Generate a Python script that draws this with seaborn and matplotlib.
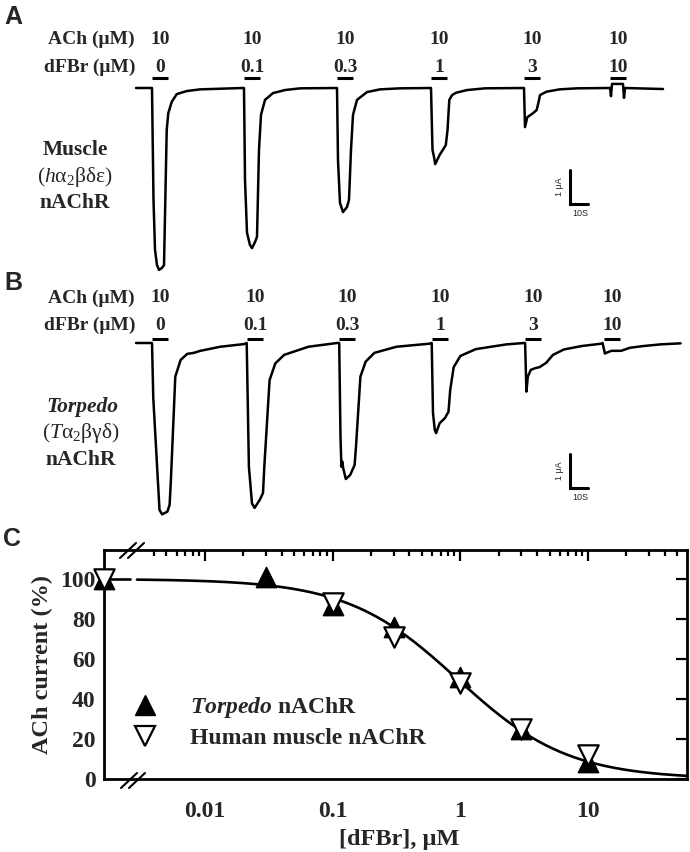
import numpy as np
import pandas as pd
import matplotlib
matplotlib.use("Agg")
import matplotlib.pyplot as plt
import seaborn as sns
from matplotlib.lines import Line2D
from matplotlib.font_manager import FontProperties

# ---------------------------------------------------------------- data
ACH_UM = ["10", "10", "10", "10", "10", "10"]
DFBR_UM = ["0", "0.1", "0.3", "1", "3", "10"]

# Panel A: human muscle nAChR current trace (time in s, current in uA)
MUSCLE_T = [0, 8.89, 9.72, 10.56, 11.67, 12.78, 14.44, 15.56, 17.06, 17.94, 19.83, 22.61, 28.17, 35.56, 59.44,
            60.0, 60.56, 61.67, 63.33, 64.44, 66.11, 67.22, 68.33, 69.44, 71.67, 76.11, 82.78, 91.11, 111.67,
            112.22, 113.33, 115.0, 117.22, 118.33, 119.44, 120.56, 122.78, 128.33, 135.56, 146.67, 163.89,
            164.72, 165.56, 166.22, 168.67, 172.11, 173.06, 174.06, 175.56, 177.78, 183.89, 193.89, 215.56,
            216.11, 217.39, 220.56, 222.56, 223.5, 224.44, 227.94, 235.28, 245.0, 263.33,
            263.89, 264.44, 270.56, 271.11, 271.67, 292.78]
MUSCLE_I = [0, 0, -3.29, -4.76, -5.21, -5.35, -5.29, -5.21, -1.24, -0.74, -0.41, -0.18, -0.09, -0.04, 0,
            0, -2.71, -4.26, -4.62, -4.71, -4.53, -4.38, -1.82, -0.79, -0.35, -0.15, -0.06, -0.01, 0,
            -2.12, -3.38, -3.65, -3.50, -3.29, -1.82, -0.79, -0.35, -0.12, -0.04, -0.01, 0,
            -1.82, -2.03, -2.24, -1.97, -1.68, -1.24, -0.35, -0.21, -0.14, -0.06, -0.01, 0,
            -1.15, -0.86, -0.74, -0.65, -0.45, -0.21, -0.11, -0.04, -0.01, 0,
            -0.24, 0.12, 0.12, -0.29, 0, -0.03]

# Panel B: Torpedo nAChR current trace
TORPEDO_T = [0, 8.89, 9.61, 13.06, 14.5, 17.44, 18.67, 19.39, 21.83, 24.78, 28.44, 32.11, 35.78, 46.83, 60.28,
             61.5, 62.72, 64.44, 65.89, 68.89, 70.56, 71.28, 74.22, 77.39, 82.28, 95.78, 111.67,
             112.89, 113.61, 114.11, 114.61, 115.11, 116.56, 119.0, 121.44, 122.22, 124.67, 127.56, 132.44, 144.72, 163.06,
             164.28, 165.0, 166.0, 166.72, 168.67, 171.61, 173.61, 174.56, 176.5, 180.22, 188.78, 205.89, 215.67,
             216.17, 216.89, 217.67, 219.33, 221.78, 224.22, 227.94, 231.61, 237.72, 247.5, 258.5,
             259.22, 260.5, 261.67, 264.17, 269.5, 274.44, 281.78, 291.56, 302.56]
TORPEDO_I = [0, 0, -1.63, -4.91, -5.04, -4.96, -4.76, -4.03, -0.99, -0.50, -0.32, -0.29, -0.23, -0.11, -0.03,
             0, -3.64, -4.72, -4.85, -4.60, -4.41, -3.64, -1.09, -0.60, -0.35, -0.11, 0,
             0, -2.76, -3.64, -3.49, -3.68, -4.00, -3.88, -3.59, -3.05, -0.99, -0.55, -0.29, -0.11, -0.02,
             0, -2.06, -2.56, -2.65, -2.36, -2.21, -2.02, -1.38, -0.71, -0.38, -0.18, -0.04, 0,
             0, -1.43, -0.99, -0.79, -0.74, -0.71, -0.58, -0.35, -0.19, -0.09, -0.02,
             0, -0.31, -0.28, -0.23, -0.23, -0.14, -0.09, -0.04, -0.01]

# drug application onsets (s) and duration (s)
MUSCLE_APPLY_T = [8.9, 60.0, 111.7, 163.9, 215.6, 263.3]
TORPEDO_APPLY_T = [8.9, 61.7, 112.8, 164.4, 216.1, 260.0]
APPLY_DUR_S = 9.0
SCALE_UA = 1.0
SCALE_S = 10.0

# Panel C: inhibition of ACh current
CONTROL_PCT = 100
TORPEDO_CONC = [0.03, 0.1, 0.3, 1, 3, 10]
TORPEDO_PCT = [101, 87, 76, 51, 25, 8.5]
HUMAN_CONC = [0.1, 0.3, 1, 3, 10]
HUMAN_PCT = [88, 71, 48, 25, 12]
IC50_UM = 0.95
HILL_N = 1.0
X_TICKS = [0.01, 0.1, 1, 10]
X_TICK_LABELS = ["0.01", "0.1", "1", "10"]
Y_TICKS = [0, 20, 40, 60, 80, 100]

# ---------------------------------------------------------------- style
sns.set_theme(style="white")
plt.rcParams["font.family"] = ["Liberation Serif", "DejaVu Serif"]
plt.rcParams["mathtext.fontset"] = "custom"
plt.rcParams["mathtext.rm"] = "Liberation Serif"
plt.rcParams["mathtext.it"] = "Liberation Serif:italic"
plt.rcParams["mathtext.bf"] = "Liberation Serif:bold"
try:
    plt.rcParams["mathtext.bfit"] = "Liberation Serif:italic:bold"
    TORP_LEG = r"$\mathbfit{Torpedo}$ nAChR"
except KeyError:
    TORP_LEG = r"$\mathit{Torpedo}$ nAChR"

W, H = 690, 852
fig = plt.figure(figsize=(W / 100, H / 100), dpi=100)


def px_box(x0, y0, x1, y1):
    return [x0 / W, 1 - y1 / H, (x1 - x0) / W, (y1 - y0) / H]


def fx(x):
    return x / W


def fy(y):
    return 1 - y / H


# trace geometry
T_PX0, PX_PER_S, PX_PER_UA = 136, 1.8, 34.0


def t_of(px):
    return (px - T_PX0) / PX_PER_S


def trace_panel(t, i, onsets, base_px, top_px, bot_px, ach_y, dfbr_y, bar_y, scale_top_px):
    ax = fig.add_axes(px_box(120, top_px, 690, bot_px))
    ax.set_xlim(t_of(120), t_of(690))
    ax.set_ylim((base_px - bot_px) / PX_PER_UA, (base_px - top_px) / PX_PER_UA)
    ax.axis("off")
    yv = lambda py: (base_px - py) / PX_PER_UA
    sns.lineplot(x=t, y=i, ax=ax, sort=False, estimator=None, color="black", lw=1.8)
    # application bars and labels
    for k, t0 in enumerate(onsets):
        ax.plot([t0, t0 + APPLY_DUR_S], [yv(bar_y)] * 2, color="black", lw=2.2,
                solid_capstyle="butt")
        xc = t0 + APPLY_DUR_S / 2
        ax.text(xc, yv(ach_y), ACH_UM[k], ha="center", va="center", fontsize=14, weight="bold")
        ax.text(xc, yv(dfbr_y), DFBR_UM[k], ha="center", va="center", fontsize=14, weight="bold")
    ax.text(t_of(135), yv(ach_y), "ACh (μM)", ha="right", va="center", fontsize=14, weight="bold")
    ax.text(t_of(135), yv(dfbr_y), "dFBr (μM)", ha="right", va="center", fontsize=14, weight="bold")
    # scale bar
    sx = t_of(570)
    sy = yv(scale_top_px)
    ax.plot([sx, sx, sx + SCALE_S], [sy, sy - SCALE_UA, sy - SCALE_UA], color="black", lw=2.2,
            solid_joinstyle="miter")
    ax.text(sx - 11 / PX_PER_S, sy - SCALE_UA / 2, "1 μA", rotation=90, ha="center", va="center",
            fontsize=6.5, family="Liberation Sans")
    ax.text(sx + SCALE_S / 2 + 1, sy - SCALE_UA - 10 / PX_PER_UA, "10S", ha="center", va="center",
            fontsize=6.5, family="Liberation Sans")
    return ax


trace_panel(MUSCLE_T, MUSCLE_I, MUSCLE_APPLY_T, 88, 0, 290, 39, 67, 78, 170)
trace_panel(TORPEDO_T, TORPEDO_I, TORPEDO_APPLY_T, 343, 265, 540, 298, 325, 339, 454)

# receptor labels
fig.text(fx(75), fy(150), "Muscle", ha="center", va="center", fontsize=15.5, weight="bold")
fig.text(fx(75), fy(177), r"($\mathit{h}$α$_2$βδε)", ha="center", va="center", fontsize=15.5)
fig.text(fx(75), fy(203), "nAChR", ha="center", va="center", fontsize=15.5, weight="bold")
fig.text(fx(82), fy(407), "Torpedo", ha="center", va="center", fontsize=15.5, weight="bold",
         style="italic")
fig.text(fx(81), fy(433), r"($\mathit{T}$α$_2$βγδ)", ha="center", va="center", fontsize=15.5)
fig.text(fx(81), fy(460), "nAChR", ha="center", va="center", fontsize=15.5, weight="bold")

for letter, (lx, ly) in zip("ABC", [(13, 17), (13, 283), (12, 539)]):
    fig.text(fx(lx), fy(ly), letter, ha="center", va="center", fontsize=18, weight="bold",
             family="Liberation Sans")

# ---------------------------------------------------------------- panel C
axC = fig.add_axes(px_box(104, 550, 687, 779))
x_lo = 10 ** (1 - (588 - 104) / 127.7)
x_hi = 10 ** (1 + (687 - 588) / 127.7)
axC.set_xscale("log")
axC.set_xlim(x_lo, x_hi)
axC.set_ylim(0, 114.5)
control_x = x_lo  # the 0 uM control sits on the broken-axis origin
gap_x0 = 10 ** (1 - (588 - 130) / 127.7)
gap_x1 = 10 ** (1 - (588 - 137) / 127.7)

xfit = np.logspace(np.log10(gap_x1), np.log10(x_hi), 300)
yfit = 100 / (1 + (xfit / IC50_UM) ** HILL_N)
sns.lineplot(x=xfit, y=yfit, ax=axC, color="black", lw=1.9, sort=False, estimator=None)
sns.lineplot(x=[control_x, gap_x0], y=[CONTROL_PCT, CONTROL_PCT], ax=axC, color="black", lw=1.9,
             sort=False, estimator=None)

torp = pd.DataFrame({"conc": [control_x] + TORPEDO_CONC, "pct": [CONTROL_PCT] + TORPEDO_PCT})
hum = pd.DataFrame({"conc": [control_x] + HUMAN_CONC, "pct": [CONTROL_PCT] + HUMAN_PCT})
sns.scatterplot(data=torp, x="conc", y="pct", ax=axC, marker="^", s=215, color="black",
                edgecolor="black", linewidth=1, legend=False, clip_on=False, zorder=3)
sns.scatterplot(data=hum, x="conc", y="pct", ax=axC, marker="v", s=215, color="white",
                edgecolor="black", linewidth=1.6, legend=False, clip_on=False, zorder=4)

axC.set_xticks(X_TICKS, labels=X_TICK_LABELS)
minor = [m * d for d in [0.001, 0.01, 0.1, 1, 10] for m in range(2, 10)]
minor = [v for v in minor if 0.0035 < v < x_hi and v not in X_TICKS]
axC.set_xticks(minor, minor=True)
axC.xaxis.set_minor_formatter(matplotlib.ticker.NullFormatter())
axC.set_yticks(Y_TICKS, labels=[str(v) for v in Y_TICKS])
axC.tick_params(which="both", direction="in", top=True, right=True, width=1.6, color="black",
                labelsize=17)
axC.tick_params(which="major", length=8)
axC.tick_params(which="minor", length=4.5)
axC.tick_params(axis="x", pad=16)
axC.tick_params(axis="y", pad=6)
for lab in axC.get_xticklabels() + axC.get_yticklabels():
    lab.set_fontweight("bold")
for sp in axC.spines.values():
    sp.set_linewidth(2.0)
    sp.set_color("black")

axC.set_xlabel("[dFBr], μM", fontsize=17.5, weight="bold")
axC.set_ylabel("ACh current (%)", fontsize=17.5, weight="bold")
axC.xaxis.label.set_va("center")
axC.yaxis.label.set_va("center")
axC.xaxis.set_label_coords(0.506, (779 - 840) / 229)
axC.yaxis.set_label_coords((42 - 104) / 583, 0.5)

handles = [Line2D([], [], ls="none", marker="^", ms=14.5, mfc="black", mec="black"),
           Line2D([], [], ls="none", marker="v", ms=14.5, mfc="white", mec="black", mew=1.6)]
axC.legend(handles, [TORP_LEG, "Human muscle nAChR"], loc="center left",
           bbox_to_anchor=(fx(133), fy(722)), bbox_transform=fig.transFigure, frameon=False,
           borderpad=0, borderaxespad=0, handlelength=1.0, handletextpad=1.4, labelspacing=0.3,
           prop=FontProperties(family="Liberation Serif", weight="bold", size=17))

# axis-break marks
for (bx, by) in [(121, 788), (129, 788), (120, 558), (128, 558)]:
    fig.add_artist(Line2D([fx(bx), fx(bx + 16)], [fy(by), fy(by - 15)], color="black", lw=1.5,
                          transform=fig.transFigure))

fig.savefig("out.png", dpi=100)
